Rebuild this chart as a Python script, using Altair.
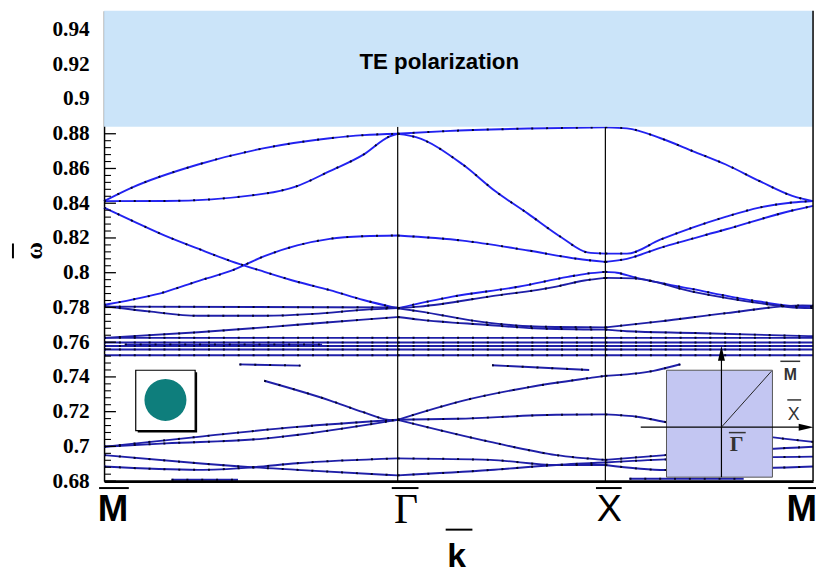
import altair as alt
import pandas as pd

# ---------------- data ----------------
# path coordinate k (units of pi/a): M=0, Gamma=sqrt2, X=sqrt2+1, M=sqrt2+2
sym_k = [0.0, 1.414, 2.414, 3.414]
sym_names = ["M", "Γ", "X", "M"]
ytick_values = [0.68, 0.70, 0.72, 0.74, 0.76, 0.78, 0.80, 0.82, 0.84, 0.86, 0.88, 0.90, 0.92, 0.94]
gap_lo = 0.884
y_top = 0.9508
note_text = "TE polarization"
note_k, note_w = 1.614, 0.9212

band_A_k = [0, 0.134, 0.453, 0.772, 1.087, 1.249, 1.414, 1.645, 2.041, 2.414, 2.518, 2.680, 2.837, 2.994, 3.157, 3.314, 3.414]
band_A_w = [0.8412, 0.8490, 0.8623, 0.8717, 0.8774, 0.8792, 0.8800, 0.8815, 0.8830, 0.8837, 0.8831, 0.8774, 0.8699, 0.8623, 0.8527, 0.8442, 0.8412]

band_B_k = [0, 0.296, 0.772, 0.930, 1.087, 1.249, 1.373, 1.414, 1.445, 1.502, 1.726, 1.883, 2.041, 2.203, 2.327, 2.414, 2.518, 2.678, 2.837, 2.996, 3.155, 3.314, 3.414]
band_B_w = [0.8412, 0.8413, 0.8455, 0.8499, 0.8585, 0.8680, 0.8784, 0.8800, 0.8795, 0.8780, 0.8624, 0.8470, 0.8340, 0.8203, 0.8117, 0.8110, 0.8110, 0.8190, 0.8261, 0.8323, 0.8375, 0.8404, 0.8413]

band_C_k = [0, 0.024, 0.296, 0.453, 0.610, 0.772, 0.930, 1.087, 1.249, 1.414, 1.726, 2.042, 2.279, 2.414, 2.518, 2.678, 2.996, 3.314, 3.414]
band_C_w = [0.7815, 0.7820, 0.7890, 0.7952, 0.8010, 0.8095, 0.8157, 0.8195, 0.8210, 0.8214, 0.8185, 0.8128, 0.8080, 0.8062, 0.8080, 0.8143, 0.8250, 0.8358, 0.8385]

band_D_k = [0, 0.134, 0.296, 0.453, 0.610, 0.772, 0.930, 1.087, 1.249, 1.414, 1.677, 1.995, 2.233, 2.327, 2.414, 2.470, 2.551, 2.837, 3.155, 3.362, 3.414]
band_D_w = [0.8375, 0.8300, 0.8212, 0.8138, 0.8067, 0.8005, 0.7948, 0.7900, 0.7843, 0.7795, 0.7862, 0.7919, 0.7976, 0.7995, 0.8005, 0.8000, 0.7975, 0.7905, 0.7834, 0.7805, 0.7805]

band_E_k = [0, 0.215, 0.453, 0.771, 1.009, 1.248, 1.414, 1.518, 1.868, 2.178, 2.313, 2.414, 2.551, 2.837, 3.155, 3.346, 3.414]
band_E_w = [0.7808, 0.7777, 0.7752, 0.7752, 0.7763, 0.7786, 0.7796, 0.7805, 0.7865, 0.7920, 0.7955, 0.7970, 0.7967, 0.7890, 0.7825, 0.7798, 0.7796]

band_F_k = [0, 1.414]
band_F_w = [0.7805, 0.7800]

band_G_k = [0, 0.453, 0.930, 1.248, 1.414, 1.518, 1.836, 2.074, 2.414, 2.518, 2.837, 3.414]
band_G_w = [0.7625, 0.7657, 0.7700, 0.7730, 0.7745, 0.7730, 0.7700, 0.7680, 0.7672, 0.7663, 0.7653, 0.7634]

band_H_k = [1.414, 1.518, 1.836, 2.074, 2.414, 2.678, 2.996, 3.362, 3.414]
band_H_w = [0.7795, 0.7777, 0.7714, 0.7690, 0.7685, 0.7720, 0.7767, 0.7812, 0.7810]

flat_k = [0, 1.414, 2.414, 3.414]
flat_1_w = [0.7625, 0.7625, 0.7625, 0.7625]
flat_2_w = [0.7598, 0.7598, 0.7598, 0.7598]
flat_3_w = [0.7578, 0.7578, 0.7578, 0.7578]
flat_4_w = [0.7558, 0.7558, 0.7558, 0.7558]
flat_5_w = [0.7525, 0.7525, 0.7525, 0.7525]

frag_1_k = [0.10, 1.05]
frag_1_w = [0.7586, 0.7586]
frag_2_k = [1.60, 2.60]
frag_2_w = [0.7568, 0.7568]

low_1_k = [0.652, 0.946]
low_1_w = [0.7472, 0.7465]
low_2_k = [1.868, 2.336]
low_2_w = [0.7467, 0.7440]
low_3_k = [0.771, 1.089, 1.248, 1.391, 1.414]
low_3_w = [0.7378, 0.7264, 0.7197, 0.7150, 0.7153]
low_4_k = [1.414, 1.725, 2.042, 2.360, 2.414, 2.646, 2.775]
low_4_w = [0.7153, 0.7262, 0.7340, 0.7397, 0.7406, 0.7435, 0.7473]
low_5_k = [0, 0.453, 0.930, 1.414]
low_5_w = [0.6998, 0.7055, 0.7112, 0.7153]
low_6_k = [0, 0.296, 0.771, 1.296, 1.414]
low_6_w = [0.6998, 0.7017, 0.7045, 0.7130, 0.7153]
low_7_k = [1.414, 1.701, 2.178, 2.414, 2.575, 2.704, 3.0, 3.414]
low_7_w = [0.7153, 0.7159, 0.7182, 0.7184, 0.7169, 0.7140, 0.7085, 0.7026]
low_8_k = [1.414, 1.860, 2.178, 2.414, 2.704, 3.414]
low_8_w = [0.7153, 0.7026, 0.6950, 0.6922, 0.6950, 0.6998]
low_9_k = [0, 0.453, 0.659, 0.930, 1.414, 1.860, 2.178, 2.414, 2.704, 3.414]
low_9_w = [0.6950, 0.6903, 0.6884, 0.6865, 0.6833, 0.6864, 0.6893, 0.6907, 0.6925, 0.6941]
low_10_k = [0, 0.453, 0.700, 0.930, 1.414, 1.860, 2.178, 2.414, 2.704, 3.414]
low_10_w = [0.6884, 0.6865, 0.6878, 0.6903, 0.6931, 0.6922, 0.6893, 0.6893, 0.6864, 0.6884]
low_11_k = [0.325, 0.645]
low_11_w = [0.6808, 0.6808]
low_12_k = [2.53, 3.08]
low_12_w = [0.6814, 0.6814]

band_list = [
    ("A", band_A_k, band_A_w, "upper"), ("B", band_B_k, band_B_w, "upper"),
    ("C", band_C_k, band_C_w, "upper"), ("D", band_D_k, band_D_w, "upper"),
    ("E", band_E_k, band_E_w, "lower"), ("F", band_F_k, band_F_w, "lower"),
    ("G", band_G_k, band_G_w, "lower"), ("H", band_H_k, band_H_w, "lower"),
    ("f1", flat_k, flat_1_w, "lower"), ("f2", flat_k, flat_2_w, "lower"),
    ("f3", flat_k, flat_3_w, "lower"), ("f4", flat_k, flat_4_w, "lower"),
    ("f5", flat_k, flat_5_w, "lower"),
    ("r1", frag_1_k, frag_1_w, "lower"), ("r2", frag_2_k, frag_2_w, "lower"),
    ("l1", low_1_k, low_1_w, "lower"), ("l2", low_2_k, low_2_w, "lower"),
    ("l3", low_3_k, low_3_w, "lower"), ("l4", low_4_k, low_4_w, "lower"),
    ("l5", low_5_k, low_5_w, "lower"), ("l6", low_6_k, low_6_w, "lower"),
    ("l7", low_7_k, low_7_w, "lower"), ("l8", low_8_k, low_8_w, "lower"),
    ("l9", low_9_k, low_9_w, "lower"), ("l10", low_10_k, low_10_w, "lower"),
    ("l11", low_11_k, low_11_w, "lower"), ("l12", low_12_k, low_12_w, "lower"),
]

# ---------------- tables ----------------
segments = [(0.0, 1.414), (1.414, 2.414), (2.414, 3.414)]
rows = []
for name, ks, ws, tone in band_list:
    for si, (a, b) in enumerate(segments):
        pts = [(k, w) for k, w in zip(ks, ws) if a - 1e-6 <= k <= b + 1e-6]
        if len(pts) >= 2:
            for o, (k, w) in enumerate(pts):
                rows.append({"seg": f"{name}_{si}", "k": k, "w": w, "o": o, "tone": tone})
bands_df = pd.DataFrame(rows)

major_ticks = pd.DataFrame({"v": [round(0.68 + 0.02 * i, 3) for i in range(11)]})
minor_ticks = pd.DataFrame({"v": [round(0.68 + 0.004 * i, 3) for i in range(51) if i % 5]})
sym_df = pd.DataFrame({"k": sym_k[1:3], "w0": [0.68, 0.68], "w1": [gap_lo, gap_lo]})
edge_df = pd.DataFrame({"k": [sym_k[3]], "w0": [0.68], "w1": [y_top]})
gap_df = pd.DataFrame({"k0": [sym_k[0]], "k1": [sym_k[3]], "w0": [gap_lo], "w1": [y_top]})
note_df = pd.DataFrame({"k": [note_k], "w": [note_w], "t": [note_text]})
one = pd.DataFrame({"a": [0]})

xs = alt.Scale(domain=[0, 3.414], nice=False, zero=False)
ys = alt.Scale(domain=[0.68, y_top], nice=False, zero=False)

# ---------------- layers ----------------
y_axis = alt.Axis(values=ytick_values, format=".2~f", labelFont="Liberation Serif",
                  labelFontWeight="bold", labelFontSize=21.5, labelColor="black",
                  labelPadding=15, ticks=False, grid=False, domainColor="black",
                  domainWidth=1.5, title="ω", titleFont="Liberation Serif",
                  titleFontWeight="bold", titleFontSize=24, titleColor="black",
                  titleX=-70, titleY=242, titleAngle=270, titleAlign="center",
                  titleBaseline="middle", orient="left")
x_axis = alt.Axis(labels=False, ticks=False, title=None, grid=False,
                  domainColor="black", domainWidth=3, zindex=1, orient="bottom")

lines = alt.Chart(bands_df).mark_line(strokeWidth=1.9, interpolate="monotone").encode(
    x=alt.X("k:Q", scale=xs, axis=x_axis),
    y=alt.Y("w:Q", scale=ys, axis=y_axis),
    detail="seg:N", order="o:Q",
    color=alt.Color("tone:N", scale=alt.Scale(domain=["upper", "lower"],
                                               range=["#2222f0", "#1f1fa8"]), legend=None))
dots = alt.Chart(bands_df).mark_line(strokeWidth=2.0, interpolate="monotone",
                                     strokeDash=[2, 13], color="#05052a").encode(
    x=alt.X("k:Q", scale=xs, axis=None), y=alt.Y("w:Q", scale=ys, axis=None),
    detail="seg:N", order="o:Q")

tick_major = alt.Chart(major_ticks).mark_rule(color="black", strokeWidth=1.3).encode(
    y=alt.Y("v:Q", scale=ys, axis=None), x=alt.value(0), x2=alt.value(12))
tick_minor = alt.Chart(minor_ticks).mark_rule(color="black", strokeWidth=1.1).encode(
    y=alt.Y("v:Q", scale=ys, axis=None), x=alt.value(0), x2=alt.value(7))

sym_rules = alt.Chart(sym_df).mark_rule(color="black", strokeWidth=1.2).encode(
    x=alt.X("k:Q", scale=xs, axis=None), y=alt.Y("w0:Q", scale=ys, axis=None), y2="w1:Q")
gap_rect = alt.Chart(gap_df).mark_rect(color="#cbe4f9").encode(
    x=alt.X("k0:Q", scale=xs, axis=None), x2="k1:Q",
    y=alt.Y("w0:Q", scale=ys, axis=None), y2="w1:Q")
note = alt.Chart(note_df).mark_text(font="Liberation Sans", fontWeight="bold", fontSize=22.5,
                                    color="black", align="center", baseline="middle").encode(
    x=alt.X("k:Q", scale=xs, axis=None), y=alt.Y("w:Q", scale=ys, axis=None), text="t:N")
edge = alt.Chart(edge_df).mark_rule(color="black", strokeWidth=1.5).encode(
    x=alt.X("k:Q", scale=xs, axis=None), y=alt.Y("w0:Q", scale=ys, axis=None), y2="w1:Q")


def seg_rule(x1, y1, x2, y2, color="black", width=1.0):
    return alt.Chart(one).mark_rule(color=color, strokeWidth=width).encode(
        x=alt.value(x1), x2=alt.value(x2), y=alt.value(y1), y2=alt.value(y2))


def box(x1, y1, x2, y2, fill, stroke=None, sw=0.0):
    kw = {"fill": fill}
    if stroke:
        kw.update(stroke=stroke, strokeWidth=sw)
    return alt.Chart(one).mark_rect(**kw).encode(
        x=alt.value(x1), x2=alt.value(x2), y=alt.value(y1), y2=alt.value(y2))


def label(x, y, txt, font, size, weight="normal", color="black", align="center",
          baseline="middle"):
    return alt.Chart(one).mark_text(text=txt, font=font, fontSize=size, fontWeight=weight,
                                    color=color, align=align, baseline=baseline).encode(
        x=alt.value(x), y=alt.value(y))


# inset 1: rod cross-section
inset1 = [
    box(34, 365, 94, 426, "black"),
    box(32, 363, 92, 424, "white", "black", 1.2),
    alt.Chart(one).mark_point(shape="circle", filled=True, size=1800, color="#0e7e7c",
                              opacity=1).encode(x=alt.value(62), y=alt.value(393)),
]

# inset 2: Brillouin zone
arrow_up = "M0,-1L0.47,1L-0.47,1Z"
arrow_right = "M1,0L-1,0.47L-1,-0.47Z"
inset2 = [
    box(568, 363, 675, 471, "#c3c6f2", "#555555", 1.0),
    seg_rule(623.5, 471, 623.5, 350, "black", 1.2),
    seg_rule(542, 420.5, 708, 420.5, "black", 1.2),
    seg_rule(623.5, 420.5, 674, 364, "#222222", 1.0),
    alt.Chart(one).mark_point(shape=arrow_up, filled=True, size=225, color="black",
                              opacity=1).encode(x=alt.value(623.5), y=alt.value(346)),
    alt.Chart(one).mark_point(shape=arrow_right, filled=True, size=225, color="black",
                              opacity=1).encode(x=alt.value(709), y=alt.value(420.5)),
    label(693, 368, "M", "Liberation Sans", 16, "bold", "#333333"),
    seg_rule(683, 354, 703, 354, "#333333", 1.5),
    label(696.5, 408, "X", "Liberation Sans", 18, "normal", "#333333"),
    seg_rule(690, 393, 704, 393, "#333333", 1.5),
    label(639, 438, "Γ", "Liberation Serif", 22, "bold", "#333333"),
    seg_rule(631, 426, 648, 426, "#333333", 1.5),
]

# symmetry-point labels under the axis
lab_df = pd.DataFrame({"k": sym_k, "t": sym_names, "i": [0, 1, 2, 3]})
label_dx = [9, 8.5, 4, -11.5]
bar_l = [-5, -6, -9.5, -25]
bar_r = [25, 21, 16.5, 3]
label_font = ["Liberation Sans", "Liberation Serif", "Liberation Sans", "Liberation Sans"]
label_weight = ["bold", "normal", "normal", "bold"]
label_size = [37, 42, 38, 37]
label_base = [515, 517, 515, 515]
sym_labels = []
for i in range(4):
    d = lab_df[lab_df.i == i]
    sym_labels.append(alt.Chart(d).mark_text(
        font=label_font[i], fontWeight=label_weight[i], fontSize=label_size[i],
        color="black", align="center", baseline="alphabetic", dx=label_dx[i]).encode(
        x=alt.X("k:Q", scale=xs, axis=None), y=alt.value(label_base[i]), text="t:N"))
    sym_labels.append(alt.Chart(d).mark_rule(
        color="black", strokeWidth=2, xOffset=bar_l[i], x2Offset=bar_r[i]).encode(
        x=alt.X("k:Q", scale=xs, axis=None), x2="k:Q", y=alt.value(482)))

extras = [
    label(356, 562, "k", "Liberation Sans", 34, "bold", baseline="alphabetic"),
    seg_rule(345, 524, 372, 524, "black", 2),
    seg_rule(-92, 235, -92, 250, "black", 2),
]

chart = alt.layer(
    lines, dots, tick_major, tick_minor, sym_rules, gap_rect, note, edge,
    *inset1, *inset2, *sym_labels, *extras
).resolve_axis(
    x="independent", y="independent"
).properties(
    width=716, height=475,
    autosize=alt.AutoSizeParams(type="none"),
    padding={"left": 97, "top": 0, "right": 4, "bottom": 92},
    background="white",
).configure_view(stroke=None)

chart.save("out.html", embed_options={"renderer": "svg", "actions": False})
